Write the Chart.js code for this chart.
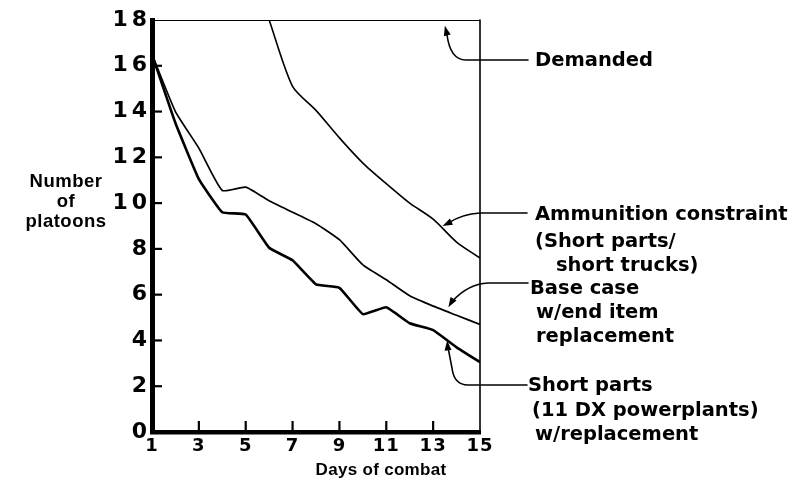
<!DOCTYPE html>
<html><head><meta charset="utf-8">
<script src="https://cdn.jsdelivr.net/npm/chart.js@4/dist/chart.umd.min.js"></script>
<style>html,body{margin:0;padding:0;background:#fff}#wrap{width:792px;height:494px;position:relative}</style>
</head><body><div id="wrap"><canvas id="c" width="792" height="494"></canvas></div>
<script>
const days = [1,2,3,4,5,6,7,8,9,10,11,12,13,14,15];
const demanded = [18,18,18,18,18,18,18,18,18,18,18,18,18,18,18];
const ammunition = [null,null,null,null,null,18,15.1,14.05,12.85,11.75,10.85,10.0,9.3,8.3,7.6];
const baseCase = [16.5,14.0,12.4,10.55,10.7,10.1,9.6,9.1,8.4,7.3,6.65,5.95,5.5,5.1,4.7];
const shortParts = [16.5,13.5,11.05,9.6,9.5,8.05,7.5,6.45,6.3,5.15,5.45,4.75,4.45,3.7,3.05];
const yTickValues = [0,2,4,6,8,10,12,14,16,18];
const xTickValues = [1,3,5,7,9,11,13,15];
const yTitle = ['Number','of','platoons'];
const xTitle = 'Days of combat';

const FONT = '"DejaVu Sans"';
const pts = arr => days.map((d,i)=>({x:d,y:arr[i]}));

const spacing = {
  id:'spacing',
  beforeDraw(chart){
    const sp = {x:'1px', y:'4px'};
    Object.keys(sp).forEach(k=>{
      const s = chart.scales[k];
      if (s._wrapped) return;
      const orig = s.drawLabels;
      s.drawLabels = function(area){
        const ctx = this.ctx; ctx.save(); ctx.letterSpacing = sp[k];
        orig.call(this, area); ctx.restore();
      };
      s._wrapped = true;
    });
  }
};

const decor = {
  id:'decor',
  afterDraw(chart){
    const ctx = chart.ctx, a = chart.chartArea, xs = chart.scales.x, ys = chart.scales.y;
    ctx.save();
    ctx.letterSpacing = '0px';
    ctx.strokeStyle = '#000'; ctx.fillStyle = '#000'; ctx.lineCap='round';
    // right border
    ctx.lineWidth = 1.6;
    ctx.beginPath(); ctx.moveTo(a.right, a.top); ctx.lineTo(a.right, a.bottom); ctx.stroke();
    // inward ticks
    ctx.lineWidth = 2.2; ctx.lineCap='butt';
    yTickValues.forEach(v=>{ if(v<=0||v>=18) return; const y=ys.getPixelForValue(v);
      ctx.beginPath(); ctx.moveTo(a.left, y); ctx.lineTo(a.left+10, y); ctx.stroke(); });
    xTickValues.forEach(v=>{ if(v<=1||v>=15) return; const x=xs.getPixelForValue(v);
      ctx.beginPath(); ctx.moveTo(x, a.bottom); ctx.lineTo(x, a.bottom-11); ctx.stroke(); });
    // leaders with arrows
    ctx.lineWidth = 1.6; ctx.lineCap='round';
    function arrow(tx,ty,fx,fy){
      const ang = Math.atan2(ty-fy, tx-fx), L=10, W=3.5;
      ctx.beginPath();
      ctx.moveTo(tx,ty);
      ctx.lineTo(tx - L*Math.cos(ang) + W*Math.sin(ang), ty - L*Math.sin(ang) - W*Math.cos(ang));
      ctx.lineTo(tx - L*Math.cos(ang) - W*Math.sin(ang), ty - L*Math.sin(ang) + W*Math.cos(ang));
      ctx.closePath(); ctx.fill();
    }
    // Demanded
    let tx = xs.getPixelForValue(13.5), ty = ys.getPixelForValue(17.75);
    ctx.beginPath(); ctx.moveTo(528,60); ctx.lineTo(466,60);
    ctx.quadraticCurveTo(450,60, tx+2, ty+8); ctx.stroke(); arrow(tx,ty,tx+3,ty+12);
    // Ammunition
    tx = xs.getPixelForValue(13.4); ty = ys.getPixelForValue(9.0);
    ctx.beginPath(); ctx.moveTo(527,213); ctx.lineTo(480,213);
    ctx.quadraticCurveTo(462,214, tx+6, ty-3); ctx.stroke(); arrow(tx,ty,tx+10,ty-5);
    // Base case
    tx = xs.getPixelForValue(13.65); ty = ys.getPixelForValue(5.45);
    ctx.beginPath(); ctx.moveTo(528,283); ctx.lineTo(488,283);
    ctx.quadraticCurveTo(468,284, tx+4, ty-6); ctx.stroke(); arrow(tx,ty,tx+6,ty-10);
    // Short parts
    tx = xs.getPixelForValue(13.6); ty = ys.getPixelForValue(4.0);
    ctx.beginPath(); ctx.moveTo(527,385); ctx.lineTo(468,385);
    ctx.quadraticCurveTo(454,385, 452,368); ctx.lineTo(tx+1, ty+8); ctx.stroke(); arrow(tx,ty,tx+1,ty+12);
    // annotation texts
    ctx.textBaseline='middle'; ctx.textAlign='left';
    ctx.font = `bold 19.5px ${FONT}`;
    const notes = [
      ['Demanded',535,61],
      ['Ammunition constraint',535,215],
      ['(Short parts/',535,242],
      ['short trucks)',556,266],
      ['Base case',530,289],
      ['w/end item',536,313],
      ['replacement',536,337],
      ['Short parts',528,386],
      ['(11 DX powerplants)',532,411],
      ['w/replacement',535,435]
    ];
    notes.forEach(n=>ctx.fillText(n[0],n[1],n[2]));
    // axis titles
    ctx.textAlign='center';
    ctx.font = 'bold 18.5px "Liberation Sans"';
    ctx.letterSpacing = '0.5px';
    const ty0=[182,202,222];
    yTitle.forEach((t,i)=>ctx.fillText(t,66,ty0[i]));
    ctx.font = 'bold 17px "Liberation Sans"';
    ctx.letterSpacing = '0.3px';
    ctx.fillText(xTitle,381,470);
    ctx.restore();
  }
};

new Chart(document.getElementById('c'), {
  type:'line',
  data:{ datasets:[
    {label:'Demanded', data:pts(demanded), borderColor:'#000', borderWidth:2.2, pointRadius:0, tension:0},
    {label:'Ammunition constraint', data:pts(ammunition), borderColor:'#000', borderWidth:1.6, pointRadius:0, tension:0.25, spanGaps:false},
    {label:'Base case', data:pts(baseCase), borderColor:'#000', borderWidth:1.7, pointRadius:0, tension:0.15},
    {label:'Short parts', data:pts(shortParts), borderColor:'#000', borderWidth:2.6, pointRadius:0, tension:0.1}
  ]},
  options:{
    responsive:false, animation:false, devicePixelRatio:1,
    layout:{padding:{left:0, right:312, top:20, bottom:0}},
    plugins:{legend:{display:false}, tooltip:{enabled:false}},
    scales:{
      x:{type:'linear', min:1, max:15,
        afterBuildTicks:s=>{s.ticks = xTickValues.map(v=>({value:v}));},
        afterFit:s=>{s.height = 62;},
        grid:{display:true, drawOnChartArea:false, drawTicks:false},
        border:{display:true, width:4.5, color:'#000'},
        ticks:{color:'#000', padding:4, maxRotation:0, autoSkip:false, font:{family:'DejaVu Sans', size:18, weight:'bold'}}
      },
      y:{type:'linear', min:0, max:18,
        afterBuildTicks:s=>{s.ticks = yTickValues.map(v=>({value:v}));},
        afterFit:s=>{s.width = 152;},
        grid:{display:true, drawOnChartArea:false, drawTicks:false},
        border:{display:true, width:5, color:'#000'},
        ticks:{color:'#000', padding:1, autoSkip:false, font:{family:'DejaVu Sans', size:22, weight:'bold'}}
      }
    }
  },
  plugins:[spacing, decor]
});
</script></body></html>
